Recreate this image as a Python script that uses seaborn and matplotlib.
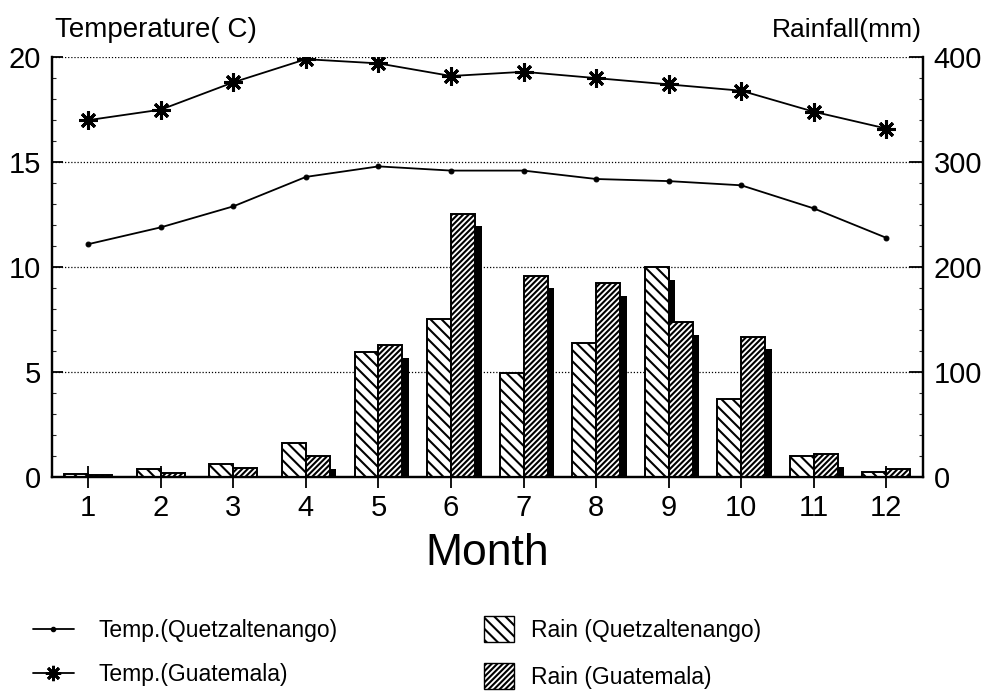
import numpy as np
import pandas as pd
import matplotlib
matplotlib.use("Agg")
import matplotlib.pyplot as plt
import seaborn as sns
from matplotlib.lines import Line2D
from matplotlib.patches import Patch

# data
months = list(range(1, 13))
temp_quetzaltenango = [11.1, 11.9, 12.9, 14.3, 14.8, 14.6, 14.6, 14.2, 14.1, 13.9, 12.8, 11.4]
temp_guatemala = [17.0, 17.5, 18.8, 19.9, 19.7, 19.1, 19.3, 19.0, 18.7, 18.4, 17.4, 16.6]
rain_quetzaltenango = [3, 8, 13, 33, 119, 151, 99, 128, 200, 75, 20, 5]
rain_guatemala = [2, 4, 9, 20, 126, 251, 192, 185, 148, 134, 22, 8]

cities = ["Quetzaltenango", "Guatemala"]
df = pd.DataFrame({
    "month": months * 2,
    "rain": rain_quetzaltenango + rain_guatemala,
    "city": [cities[0]] * 12 + [cities[1]] * 12,
})

sns.set_style("white")
plt.rcParams["font.family"] = ["Liberation Sans", "DejaVu Sans"]
plt.rcParams["hatch.linewidth"] = 1.5
plt.rcParams["text.color"] = "black"
plt.rcParams["axes.labelcolor"] = "black"

fig = plt.figure(figsize=(9.9, 6.92), dpi=100)
ax = fig.add_axes([0.0525, 0.31, 0.8795, 0.6075])
ax2 = ax.twinx()

# bars (rainfall)
bar_w = 0.66
sns.barplot(data=df, x="month", y="rain", hue="city", hue_order=cities,
            palette=["white", "white"], saturation=1, width=bar_w,
            edgecolor="black", linewidth=1.4, legend=False, ax=ax2)
for i, p in enumerate(ax2.patches[:24]):
    p.set_hatch("\\\\\\" if i < 12 else "//////")
    p.set_zorder(1)

# black shadow behind each bar
xpos = np.arange(12)
half = bar_w / 2
shift = 0.09
drop = 12
ax2.bar(xpos - half / 2 + shift, np.maximum(np.array(rain_quetzaltenango) - drop, 0),
        width=half, color="black", linewidth=0, zorder=0.8)
ax2.bar(xpos + half / 2 + shift, np.maximum(np.array(rain_guatemala) - drop, 0),
        width=half, color="black", linewidth=0, zorder=0.8)

# lines (temperature)
sns.lineplot(x=xpos, y=temp_quetzaltenango, ax=ax, color="black", lw=1.3,
             marker="o", markersize=3.5, markeredgecolor="black")
sns.lineplot(x=xpos, y=temp_guatemala, ax=ax, color="black", lw=1.3,
             marker=(8, 2, 0), markersize=13, markeredgewidth=2.2,
             markeredgecolor="black")

ax.set_ylim(0, 20)
ax2.set_ylim(0, 400)
ax.set_xlim(-0.5, 11.5)
ax2.set_xlim(-0.5, 11.5)

ax.set_yticks([0, 5, 10, 15, 20])
ax.set_yticks(np.arange(0, 21, 1), minor=True)
ax2.set_yticks([0, 100, 200, 300, 400])
ax2.set_yticks(np.arange(0, 401, 20), minor=True)
ax.set_xticks(xpos)
ax.set_xticklabels([str(m) for m in months])

ax.grid(axis="y", linestyle=(0, (1, 1.5)), color="black", linewidth=0.9)
ax.grid(axis="x", visible=False)
ax2.grid(False)

for a in (ax, ax2):
    a.spines["top"].set_visible(False)
    for s in ("left", "right", "bottom"):
        a.spines[s].set_linewidth(1.6)
        a.spines[s].set_color("black")

ax.tick_params(axis="y", which="major", direction="in", length=8, width=1.3,
               labelsize=21, pad=8, colors="black")
ax.tick_params(axis="y", which="minor", direction="in", length=3, width=0.8, left=True)
ax2.tick_params(axis="y", which="major", direction="in", length=10, width=1.3,
                labelsize=21, pad=8, colors="black")
ax2.tick_params(axis="y", which="minor", direction="in", length=3, width=0.8, right=True)
ax.tick_params(axis="x", direction="inout", length=16, width=1.3, labelsize=21,
               pad=4, colors="black", bottom=True)
ax2.tick_params(axis="x", bottom=False, labelbottom=False)

ax.set_xlabel("Month", fontsize=32, labelpad=8)
ax2.set_xlabel("")
ax.set_ylabel("")
ax2.set_ylabel("")

fig.text(55 / 990, 1 - 30 / 692, "Temperature( C)", fontsize=20, va="center", ha="left")
fig.text(922 / 990, 1 - 30 / 692, "Rainfall(mm)", fontsize=19, va="center", ha="right")

# legends
line_handles = [
    Line2D([], [], color="black", lw=1.3, marker="o", markersize=3),
    Line2D([], [], color="black", lw=1.3, marker=(8, 2, 0), markersize=11,
           markeredgewidth=2, markeredgecolor="black"),
]
patch_handles = [
    Patch(facecolor="white", edgecolor="black", hatch="\\\\\\", lw=1),
    Patch(facecolor="white", edgecolor="black", hatch="//////", lw=1),
]
leg1 = fig.legend(line_handles, ["Temp.(Quetzaltenango)", "Temp.(Guatemala)"],
                  loc="center left", bbox_to_anchor=(0.012, 0.057), frameon=False,
                  fontsize=16.5, labelspacing=0.9, handlelength=1.8, handletextpad=1.1)
leg2 = fig.legend(patch_handles, ["Rain (Quetzaltenango)", "Rain (Guatemala)"],
                  loc="center left", bbox_to_anchor=(0.468, 0.057), frameon=False,
                  fontsize=16.5, labelspacing=0.9, handlelength=1.3, handleheight=1.4,
                  handletextpad=0.75)

fig.savefig("out.png", dpi=100)
